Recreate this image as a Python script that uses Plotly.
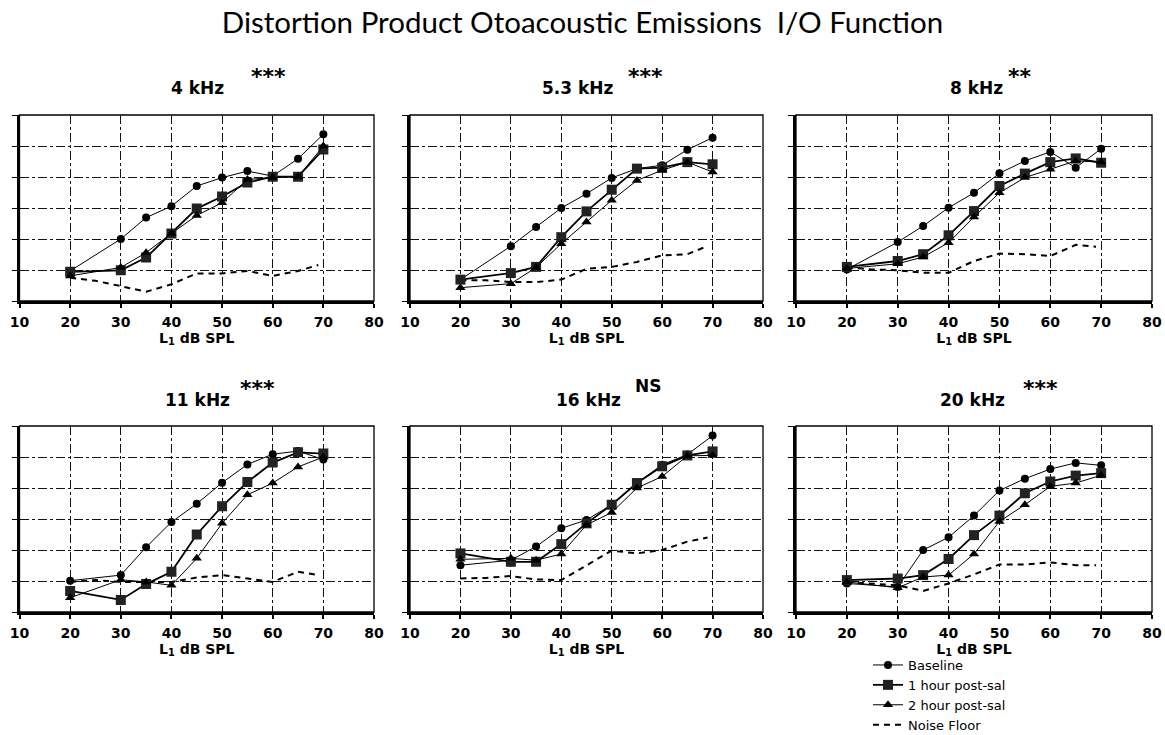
import plotly.graph_objects as go
from plotly.subplots import make_subplots

# L1 primary levels (dB SPL) at which the DPOAE amplitudes were measured
LEVELS = [20, 30, 35, 40, 45, 50, 55, 60, 65, 70]
NOISE_LEVELS = [20, 25, 30, 35, 40, 45, 50, 55, 60, 65, 69]

FREQ_LABELS = ["4 kHz", "5.3 kHz", "8 kHz", "11 kHz", "16 kHz", "20 kHz"]
SIGNIF_LABELS = ["***", "***", "**", "***", "NS", "***"]
SERIES_NAMES = ["Baseline", "1 hour post-sal", "2 hour post-sal", "Noise Floor"]
X_TICKS = [10, 20, 30, 40, 50, 60, 70, 80]

# DPOAE amplitude (grid units) for each frequency
BASELINE_4K = [0.97, 2.00, 2.69, 3.06, 3.71, 3.98, 4.19, 4.03, 4.59, 5.38]
POST1H_4K = [0.94, 0.99, 1.40, 2.18, 2.98, 3.37, 3.82, 4.01, 4.01, 4.89]
POST2H_4K = [0.81, 1.08, 1.56, 2.18, 2.76, 3.17, 3.92, 3.98, 4.01, 5.00]
NOISE_4K = [0.75, 0.65, 0.48, 0.30, 0.54, 0.89, 0.89, 0.97, 0.81, 0.97, 1.16]

BASELINE_5K = [0.69, 1.77, 2.39, 3.00, 3.46, 3.97, 4.27, 4.38, 4.88, 5.27]
POST1H_5K = [0.69, 0.90, 1.10, 2.06, 2.89, 3.59, 4.27, 4.30, 4.48, 4.41]
POST2H_5K = [0.43, 0.56, 1.08, 1.85, 2.55, 3.25, 3.89, 4.22, 4.48, 4.16]
NOISE_5K = [0.67, 0.67, 0.61, 0.61, 0.69, 1.04, 1.10, 1.26, 1.47, 1.51, 1.77]

BASELINE_8K = [1.02, 1.90, 2.42, 3.01, 3.49, 4.12, 4.52, 4.81, 4.30, 4.91]
POST1H_8K = [1.10, 1.29, 1.51, 2.12, 2.90, 3.71, 4.11, 4.48, 4.60, 4.46]
POST2H_8K = [1.05, 1.20, 1.42, 1.88, 2.71, 3.49, 3.98, 4.25, 4.52, 4.48]
NOISE_8K = [1.08, 1.02, 0.99, 0.91, 0.91, 1.29, 1.53, 1.51, 1.45, 1.81, 1.75]

BASELINE_11K = [1.01, 1.19, 2.09, 2.90, 3.49, 4.17, 4.76, 5.09, 5.19, 4.92]
POST1H_11K = [0.68, 0.39, 0.90, 1.30, 2.50, 3.41, 4.19, 4.82, 5.15, 5.11]
POST2H_11K = [0.46, 1.04, 0.97, 0.86, 1.73, 2.86, 3.78, 4.16, 4.68, 5.00]
NOISE_11K = [0.97, 1.03, 0.97, 0.97, 0.97, 1.11, 1.19, 1.08, 0.97, 1.30, 1.19]

BASELINE_16K = [1.51, 1.67, 2.11, 2.70, 2.97, 3.46, 4.16, 4.75, 5.08, 5.69]
POST1H_16K = [1.89, 1.62, 1.62, 2.19, 2.86, 3.46, 4.16, 4.70, 5.05, 5.18]
POST2H_16K = [1.70, 1.73, 1.67, 1.87, 2.81, 3.21, 4.00, 4.37, 5.04, 5.05]
NOISE_16K = [1.08, 1.10, 1.16, 1.05, 1.03, 1.51, 1.98, 1.89, 2.00, 2.27, 2.40]

BASELINE_20K = [0.92, 0.81, 2.00, 2.41, 3.11, 3.92, 4.30, 4.61, 4.81, 4.73]
POST1H_20K = [1.03, 1.08, 1.19, 1.71, 2.48, 3.11, 3.83, 4.21, 4.40, 4.48]
POST2H_20K = [0.97, 0.78, 1.13, 1.19, 1.87, 2.92, 3.46, 4.05, 4.16, 4.41]
NOISE_20K = [0.97, 0.92, 0.86, 0.68, 0.92, 1.21, 1.53, 1.53, 1.60, 1.51, 1.51]

PANELS = [
    (BASELINE_4K, POST1H_4K, POST2H_4K, NOISE_4K),
    (BASELINE_5K, POST1H_5K, POST2H_5K, NOISE_5K),
    (BASELINE_8K, POST1H_8K, POST2H_8K, NOISE_8K),
    (BASELINE_11K, POST1H_11K, POST2H_11K, NOISE_11K),
    (BASELINE_16K, POST1H_16K, POST2H_16K, NOISE_16K),
    (BASELINE_20K, POST1H_20K, POST2H_20K, NOISE_20K),
]

W, H = 1165, 735

def px_x(v):
    return v / W

def px_y(v):
    return 1 - v / H

# subplot frames in pixels: (left, right) per column, (top, bottom) per row
COLS = [(19.5, 374), (410, 763), (796, 1152)]
ROWS = [(115, 301), (426, 612)]

TITLE_POS = [(197, 88), (578, 88), (976, 88), (197, 400), (588, 400), (972, 400)]
SIGNIF_POS = [(268, 77), (645, 77), (1020, 77), (257, 388), (648, 386), (1040, 388)]

fig = make_subplots(rows=2, cols=3)

styles = [
    dict(mode="lines+markers", line=dict(color="black", width=1),
         marker=dict(symbol="circle", size=8, color="black")),
    dict(mode="lines+markers", line=dict(color="black", width=1.8),
         marker=dict(symbol="square", size=10, color="#222")),
    dict(mode="lines+markers", line=dict(color="black", width=1),
         marker=dict(symbol="triangle-up", size=9, color="black")),
    dict(mode="lines", line=dict(color="black", width=2, dash="6px,5px")),
]

for i, series in enumerate(PANELS):
    r, c = i // 3 + 1, i % 3 + 1
    # draw noise floor first so the response curves sit on top
    order = [3, 0, 1, 2]
    for k in order:
        xs = NOISE_LEVELS if k == 3 else LEVELS
        fig.add_trace(
            go.Scatter(x=xs, y=series[k], name=SERIES_NAMES[k],
                       legendgroup=SERIES_NAMES[k], legendrank=k + 1,
                       showlegend=(i == 0), **styles[k]),
            row=r, col=c,
        )

axis_font = dict(family="DejaVu Sans", size=14, color="black", weight="bold")

shapes = []
annotations = []
for i in range(6):
    r, c = i // 3, i % 3
    n = "" if i == 0 else str(i + 1)
    x0, x1 = COLS[c]
    y0, y1 = ROWS[r]
    fig.layout[f"xaxis{n}"].update(
        domain=[px_x(x0), px_x(x1)], range=[10, 80], tickvals=X_TICKS,
        showgrid=True, gridcolor="#111", gridwidth=1, griddash="dashdot",
        showline=True, linecolor="black", linewidth=2.5,
        ticks="outside", ticklen=4, tickwidth=1.5, tickcolor="black",
        ticklabelstandoff=2,
        tickfont=axis_font,
        zeroline=False,
        title=dict(text="L<sub>1</sub> dB SPL", standoff=4, font=axis_font),
    )
    fig.layout[f"yaxis{n}"].update(
        domain=[px_y(y1), px_y(y0)], range=[0, 6], tickvals=[0, 1, 2, 3, 4, 5, 6],
        showticklabels=False,
        showgrid=True, gridcolor="#111", gridwidth=1, griddash="dashdot",
        showline=True, linecolor="black", linewidth=3,
        ticks="outside", ticklen=5, tickwidth=1.2, tickcolor="black",
        zeroline=False,
    )
    shapes.append(dict(type="rect", xref=f"x{n} domain", yref=f"y{n} domain",
                       x0=0, x1=1, y0=0, y1=1, layer="below",
                       line=dict(color="black", width=1.3)))
    tx, ty = TITLE_POS[i]
    annotations.append(dict(text=FREQ_LABELS[i], x=px_x(tx), y=px_y(ty),
                            xref="paper", yref="paper", showarrow=False,
                            xanchor="center", yanchor="middle",
                            font=dict(family="DejaVu Sans", size=17, color="black", weight="bold")))
    sx, sy = SIGNIF_POS[i]
    annotations.append(dict(text=SIGNIF_LABELS[i], x=px_x(sx), y=px_y(sy),
                            xref="paper", yref="paper", showarrow=False,
                            xanchor="center", yanchor="middle",
                            font=dict(family="DejaVu Sans", size=17 if SIGNIF_LABELS[i] == "NS" else 22,
                                      color="black", weight="bold")))

fig.update_layout(
    width=W, height=H, autosize=False,
    margin=dict(l=0, r=0, t=0, b=0, autoexpand=False),
    paper_bgcolor="white", plot_bgcolor="white",
    title=dict(text="Distortion Product Otoacoustic Emissions  I/O Function",
               x=0.5, xanchor="center", y=px_y(23), yanchor="middle",
               font=dict(family="Lato", size=29.5, color="black")),
    shapes=shapes,
    annotations=annotations,
    legend=dict(x=px_x(868), y=px_y(650), xanchor="left", yanchor="top",
                bgcolor="rgba(0,0,0,0)", borderwidth=0, itemwidth=30,
                traceorder="grouped", tracegroupgap=0,
                font=dict(family="DejaVu Sans", size=13, color="black")),
)

fig.write_html("out.html")
